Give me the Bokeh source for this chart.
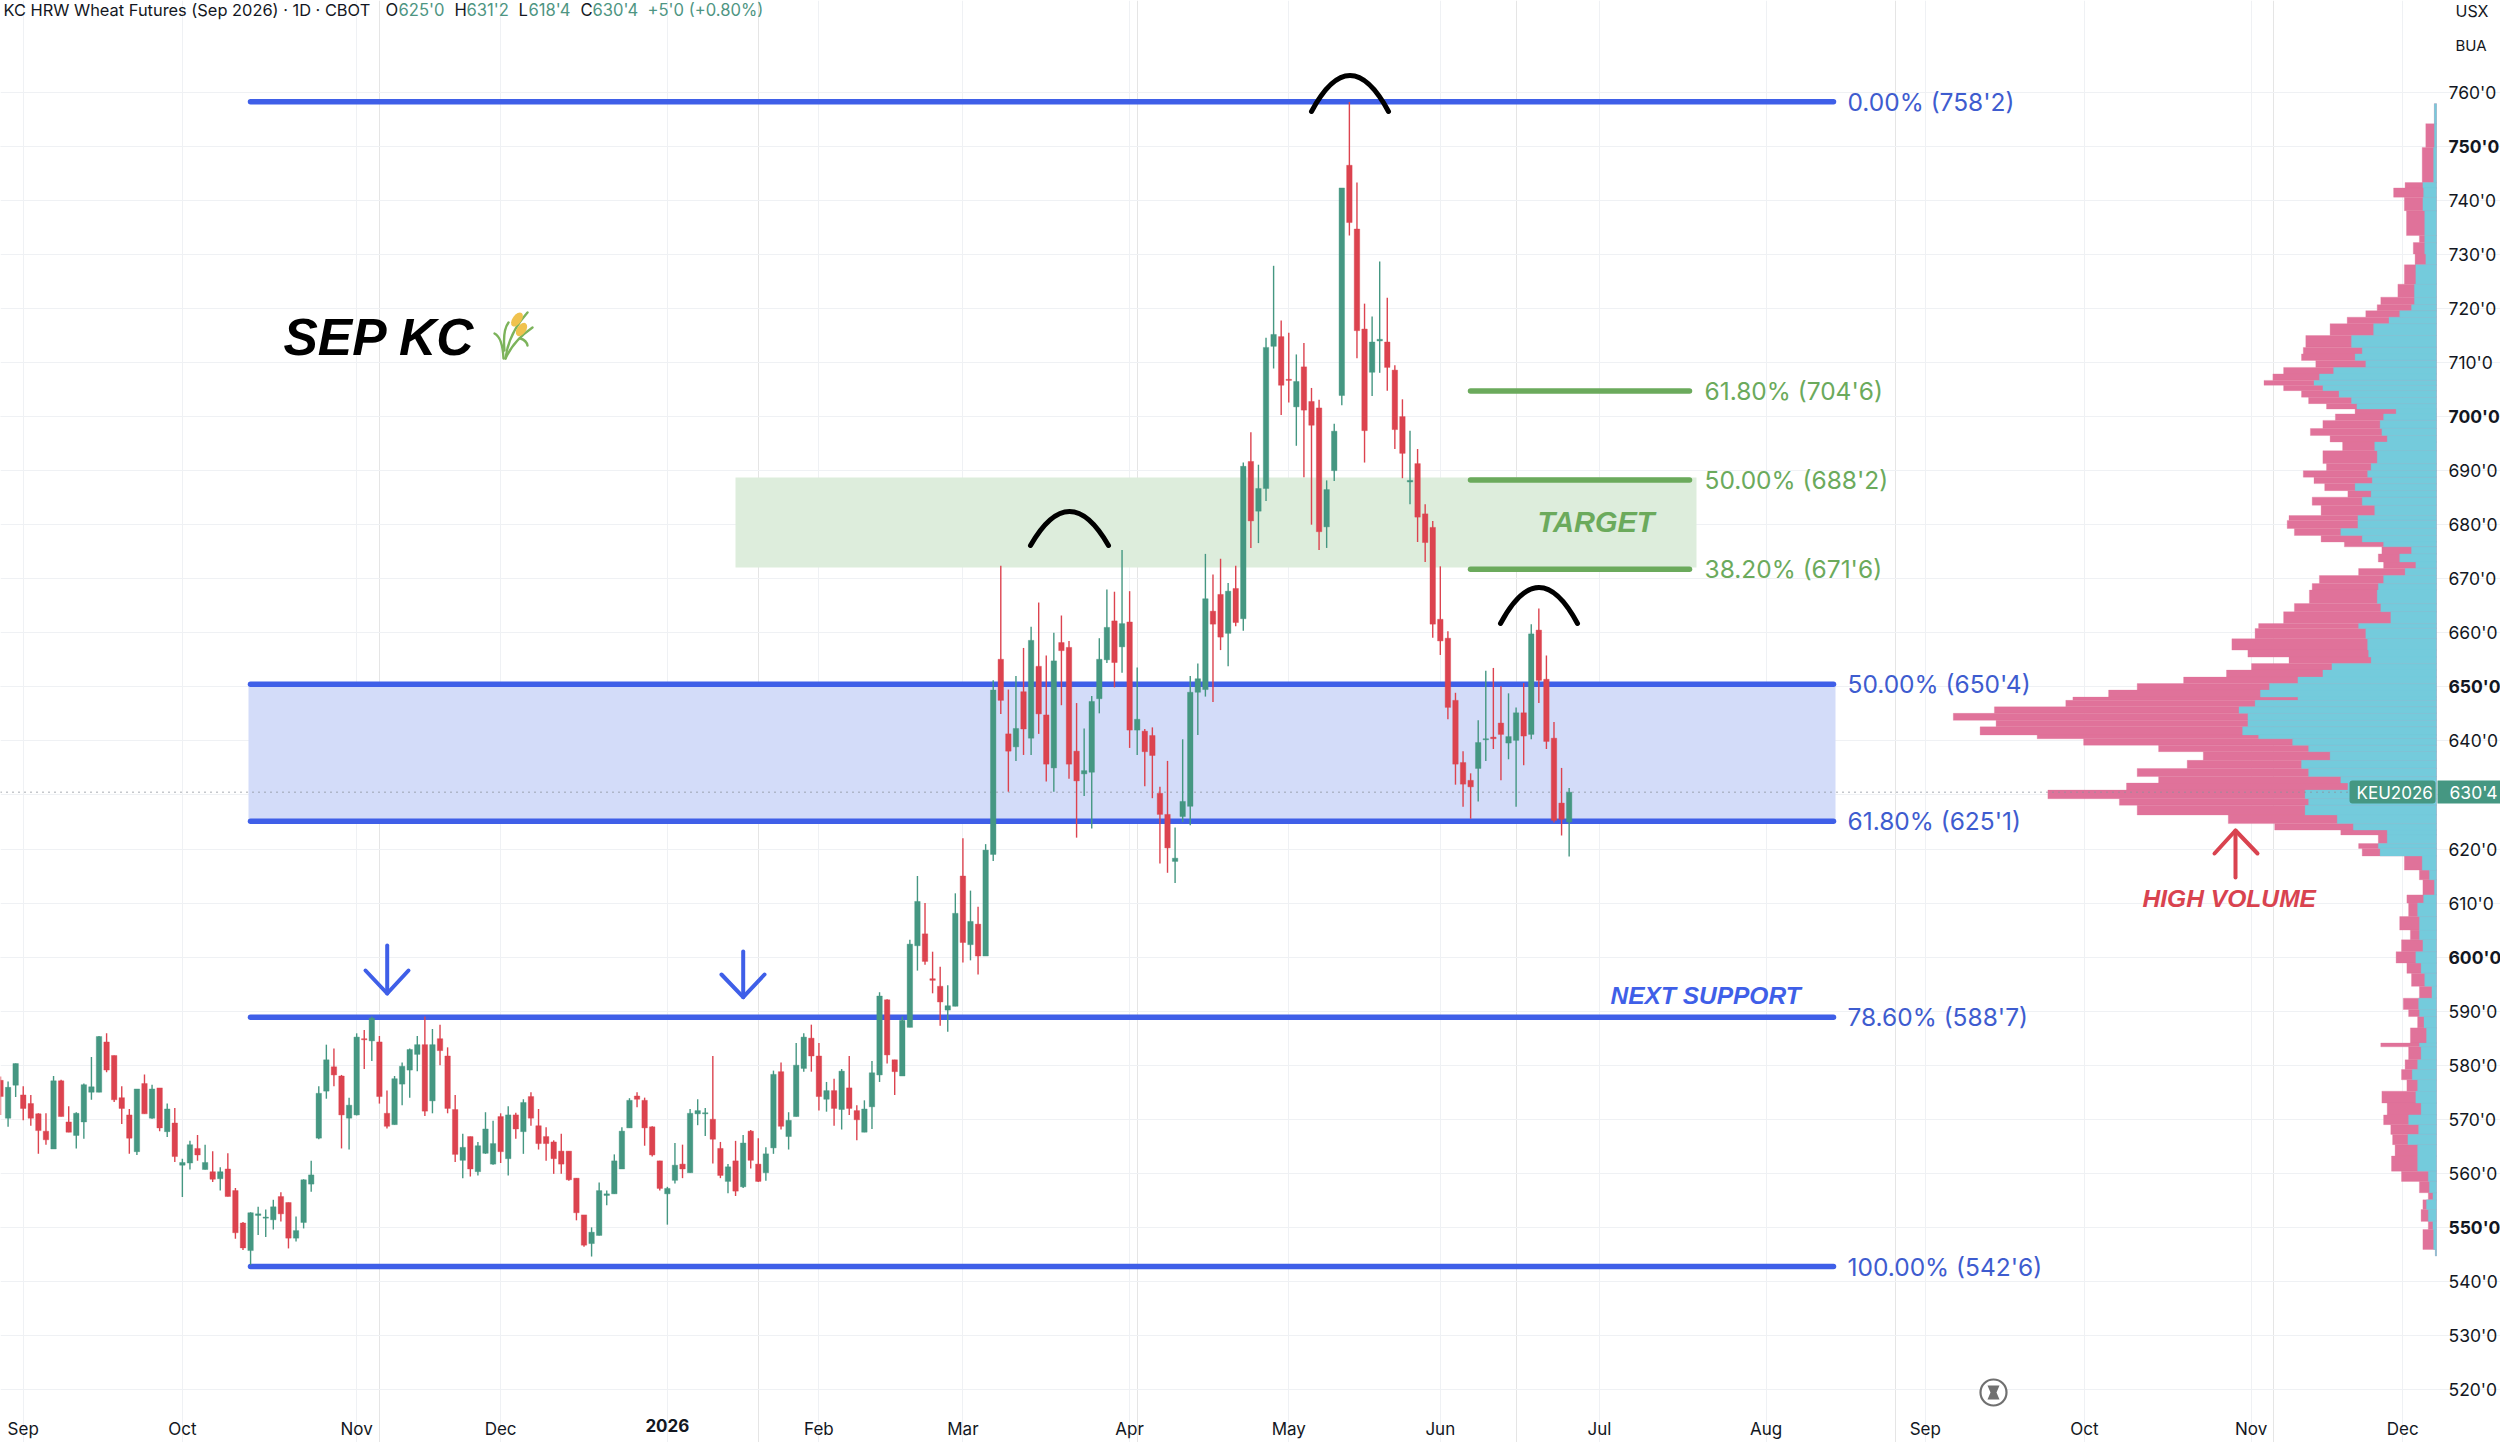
from bokeh.plotting import figure
from bokeh.models import Range1d, FixedTicker, Label, BoxAnnotation, LinearAxis, Grid
from bokeh.core.properties import value
from bokeh.embed import file_html
from bokeh.resources import INLINE

highs = [577.9,577.0,580.3,576.1,574.5,571.1,571.1,578.0,577.3,572.4,
571.3,576.6,581.5,585.4,585.9,581.8,576.1,571.9,575.6,578.3,
576.4,575.8,572.9,572.1,562.7,566.0,567.1,565.3,564.1,561.1,
563.7,557.3,551.0,552.8,553.8,553.3,555.1,556.5,554.6,552.0,
558.9,562.3,576.1,583.8,583.1,578.2,574.0,585.9,586.5,589.0,
585.4,575.3,578.0,580.5,583.1,585.4,589.0,586.7,587.5,583.3,
574.5,567.3,566.8,565.8,571.3,569.7,571.1,572.4,571.2,573.7,
575.0,571.9,568.5,566.1,567.3,564.1,559.1,552.3,550.0,558.3,
556.8,563.5,568.5,573.9,575.0,574.0,568.7,562.3,557.5,565.6,
565.3,571.9,573.7,572.1,581.7,565.8,561.7,566.0,567.1,568.0,
566.5,564.8,579.0,580.5,571.3,584.1,585.9,587.5,584.1,576.9,
577.5,579.3,581.7,572.6,573.5,580.8,593.5,592.2,581.0,589.0,
603.2,615.0,610.0,601.0,598.2,594.8,611.8,622.0,612.3,609.3,
620.9,651.2,672.4,649.5,652.0,657.2,661.1,665.6,655.8,660.0,
663.2,658.5,647.0,642.3,648.3,659.0,668.0,667.6,675.3,667.7,
653.6,642.2,642.5,631.5,636.3,624.0,640.3,652.0,654.3,674.6,
670.8,673.7,669.2,672.4,691.5,697.1,691.1,714.6,727.9,717.8,
715.5,711.5,713.6,705.3,703.1,688.2,698.7,742.3,758.2,743.3,
720.9,718.5,728.7,722.0,709.5,703.2,697.4,694.0,683.8,680.7,
672.3,660.3,648.9,638.1,634.0,643.8,653.0,653.5,650.1,648.8,
646.2,650.7,661.6,664.5,655.8,643.5,635.0,631.3]

lows = [570.8,568.6,574.1,569.8,568.8,563.6,565.3,564.5,570.5,567.6,
564.6,566.4,573.6,575.0,578.7,573.2,569.1,563.6,563.4,571.0,
570.1,567.8,566.7,562.1,555.6,560.7,562.3,560.7,558.4,556.8,
555.7,547.9,545.8,543.1,548.6,548.2,549.6,551.1,546.1,547.4,
549.8,556.6,566.3,573.8,576.1,564.6,564.4,570.7,579.3,580.8,
572.9,568.3,569.0,572.6,574.0,578.9,570.6,571.1,580.0,571.1,
562.1,559.1,559.4,559.6,563.6,561.6,561.9,559.6,566.4,563.6,
568.8,564.4,562.3,559.9,559.9,558.6,551.3,546.4,544.6,548.5,
554.1,556.2,560.8,568.4,572.2,565.1,563.1,556.8,550.5,558.1,
559.1,560.1,568.9,566.9,561.8,559.1,556.3,555.8,557.3,560.9,
558.4,558.6,563.6,568.1,564.4,570.5,578.8,578.8,571.6,571.4,
568.8,568.1,570.8,566.1,567.6,568.2,576.9,580.3,574.5,578.0,
587.0,597.5,598.6,593.3,587.3,586.2,590.9,599.0,599.4,596.8,
600.2,617.8,645.0,630.6,636.3,637.4,637.4,641.3,632.5,630.6,
646.6,633.0,622.1,629.8,623.8,645.1,654.4,649.9,652.6,638.7,
637.4,631.6,629.4,617.3,615.6,613.7,625.0,624.4,641.1,648.2,
647.2,656.8,653.8,661.2,660.4,675.7,676.6,684.4,708.9,700.3,
702.6,694.6,688.8,680.0,675.3,675.7,688.1,702.1,733.5,710.8,
691.5,703.8,708.1,704.8,694.0,688.6,683.8,676.8,673.1,659.1,
655.9,644.0,631.9,627.8,625.6,628.8,636.3,638.5,632.7,636.6,
627.8,635.5,640.3,647.0,638.5,624.9,622.5,618.6]

opens = [577.2,570.2,576.3,574.5,572.9,571.0,567.8,564.5,577.1,569.5,
567.0,569.5,575.0,575.0,584.3,581.8,574.0,570.8,564.0,576.6,
570.2,575.8,567.7,569.3,561.5,561.9,564.6,560.7,560.3,559.0,
560.8,556.8,550.8,545.7,552.2,551.7,551.4,555.7,554.6,548.0,
550.9,558.0,566.5,575.2,579.7,578.0,570.2,570.8,584.9,584.5,
584.3,571.1,569.0,576.5,579.1,582.0,583.8,573.4,584.9,581.7,
571.8,562.4,566.8,560.3,563.7,561.7,570.5,562.7,570.8,567.7,
574.2,568.8,566.8,565.8,564.1,564.1,559.1,552.3,547.0,548.5,
555.9,556.2,560.8,568.4,574.3,573.5,568.6,562.3,556.2,558.7,
561.7,560.1,571.0,571.0,570.0,564.6,558.5,562.3,557.5,567.8,
561.7,560.1,564.7,578.8,566.8,570.5,579.4,585.0,581.7,573.7,
575.3,571.8,575.8,571.6,567.6,572.3,578.2,592.1,581.0,578.0,
587.0,602.1,604.3,596.0,594.6,590.2,590.9,615.0,602.3,606.1,
600.2,619.0,655.1,641.3,638.9,649.1,640.5,653.8,644.8,635.0,
658.2,657.3,638.1,633.9,634.2,647.8,655.0,662.2,657.4,662.0,
642.0,641.8,641.0,630.3,626.4,617.7,626.0,627.9,649.0,649.5,
664.0,667.1,659.9,668.2,662.6,691.7,682.5,686.7,713.0,714.8,
706.9,701.8,709.2,702.8,701.6,679.6,690.0,703.9,746.5,734.7,
716.2,708.2,714.0,713.8,708.6,700.0,687.9,691.3,682.0,679.5,
662.5,659.0,647.5,636.0,632.7,634.9,640.2,640.7,643.3,639.6,
640.1,645.2,641.2,660.5,651.4,640.5,628.5,625.0]

closes = [574.2,575.9,580.3,572.0,570.2,567.9,566.2,577.1,570.5,567.6,
571.1,576.4,576.0,585.3,579.1,573.6,572.0,566.5,575.6,571.0,
575.6,568.4,571.9,563.1,562.0,565.3,563.4,562.0,558.9,560.3,
555.7,549.0,546.2,552.7,552.5,551.9,553.8,552.5,548.0,549.4,
558.8,559.7,574.8,581.0,578.2,570.8,572.6,585.2,584.7,588.7,
574.2,568.7,577.5,579.8,582.9,583.8,571.5,583.8,582.7,572.0,
563.5,564.8,560.8,565.1,568.2,565.5,564.0,570.8,568.2,573.1,
570.2,565.5,565.5,562.7,561.7,558.8,552.7,546.7,549.1,556.8,
556.2,562.3,567.8,573.5,573.7,568.4,563.4,557.2,557.2,561.5,
560.8,571.1,571.6,571.2,566.3,559.6,561.2,556.7,565.6,562.4,
558.5,563.6,578.3,568.7,569.8,580.0,585.2,581.7,574.2,575.3,
572.0,578.9,572.0,569.9,571.9,578.6,592.8,581.9,578.8,588.3,
602.4,610.3,599.2,595.7,591.7,591.0,608.1,602.7,606.6,600.2,
619.8,649.4,647.5,638.1,642.3,642.2,658.6,645.0,635.7,654.8,
656.7,635.7,632.6,634.5,647.3,655.1,661.0,654.5,661.7,642.0,
644.0,638.0,637.3,626.4,620.2,618.3,628.8,649.0,651.5,666.3,
661.6,659.2,667.7,661.9,690.8,680.7,686.7,712.8,715.2,705.8,
706.7,706.5,701.2,698.4,678.7,686.5,697.3,742.3,735.9,715.9,
697.4,713.8,714.3,709.1,697.6,693.2,688.2,681.4,676.7,661.6,
658.5,646.2,635.7,632.0,631.5,639.7,640.4,640.4,641.2,640.8,
645.2,640.9,659.8,651.2,639.9,625.3,625.5,630.5]

# volume profile: row boundaries (price) and total / up volume of each row
vp_edges = [757.9,754.2,749.8,743.3,742.3,740.6,738.1,733.5,732.2,730.1,728.1,724.5,722.1,720.7,719.6,718.4,717.2,715.0,712.8,711.6,
710.4,709.1,707.9,706.7,705.8,704.8,703.6,702.4,701.4,700.5,699.3,697.8,696.5,695.3,693.7,691.3,690.0,688.8,687.6,686.3,
685.1,683.6,681.7,680.8,679.3,678.0,676.8,675.9,674.6,673.1,671.9,670.6,669.1,667.9,665.4,663.9,661.7,660.8,658.9,656.8,
655.5,654.3,653.1,651.8,650.6,649.4,648.1,647.5,646.3,645.1,643.8,642.6,641.1,640.4,639.2,638.0,636.4,634.9,633.4,632.2,
630.9,629.3,628.1,626.3,624.7,623.5,622.6,621.0,620.1,618.7,616.1,614.3,611.5,610.0,607.5,605.0,603.2,601.0,598.9,597.0,
594.6,592.4,590.3,589.0,586.9,584.1,583.4,581.0,579.2,577.3,575.2,573.0,570.8,569.0,567.2,565.3,563.2,560.4,558.5,556.4,
555.1,553.3,551.1,549.6,545.9,544.7]
vp_total = [2.1,10.7,14.3,31.4,42.9,32.1,30,17.1,23.2,21.4,32.1,38.6,55.7,59.3,70.7,89.3,106.4,130.7,133.2,135,
120.7,152.9,163.6,172.5,152.9,135,127.9,110,81.4,101.1,113.6,126.1,106.4,93.9,113.6,110,133.2,122.5,111.8,88.6,
124.3,115.4,147.5,149.3,142.1,115.4,92.1,54.6,58.2,52.9,77.9,117.1,124.3,127.1,142.1,152.9,177.9,181.4,204.6,188.6,
147.5,185,210,252.9,299.3,327.9,363.6,370.7,442.1,483.2,440.4,456.4,399.3,352.9,277.9,233.2,249.3,299.3,277.9,310,
388.6,317.1,299.3,208.2,161.8,95.7,58.2,77.9,74.3,32.1,17.1,13.6,29.6,27.9,36.8,26.1,35,40.4,29.6,25,
17.1,33.2,27.9,18.9,26.1,55.7,27.9,31.4,35,29.6,54.6,49.3,52.9,45.7,43.9,41.4,45,35,17.1,8.2,
13.6,15.4,8.2,13.6,1.1]
vp_up = [2.1,2.1,2.9,13.6,12.9,13.6,11.8,11.8,11.8,10.7,20.7,22.1,22.1,25,36.8,47.5,62.9,85,74.3,81.4,
70.7,102.9,117.1,122.5,113.6,97.5,85,79.6,40.4,52.9,56.4,54.6,49.3,61.8,59.3,65.4,68.9,64.3,81.4,65.4,
74.3,61.8,78.6,78.6,95.7,74.3,52.9,25,36.8,20.7,31.4,52.9,58.2,59.3,55.7,45.7,77.9,70.7,68.9,67.9,
65.4,104.6,113.6,138.6,167.1,176.1,138.6,181.4,197.5,188.6,188.6,193.9,177.9,143.9,127.9,106.4,135,127.9,95.7,88.6,
131.4,127.9,131.4,99.3,83.2,49.3,49.3,58.2,56.4,14.3,7.1,2.1,12.9,18.9,17.1,17.1,13.6,20.7,15.4,11.8,
4.6,17.9,17.1,12.5,10,17.1,15.4,18.9,24.3,18.9,20.7,15.4,27.9,17.9,28.6,18.9,18.9,8.2,7.1,3.6,
10,8.2,3.6,2.9,1.1]

fib_blue_levels = [758.25, 650.5, 625.125, 588.875, 542.75]
fib_blue_labels = ["0.00% (758'2)", "50.00% (650'4)", "61.80% (625'1)", "78.60% (588'7)", "100.00% (542'6)"]
fib_green_levels = [704.75, 688.25, 671.75]
fib_green_labels = ["61.80% (704'6)", "50.00% (688'2)", "38.20% (671'6)"]
last_price = 630.5

month_ticks = [3, 24, 47, 66, 88, 108, 127, 149, 170, 190, 211, 233, 254, 275, 297, 317]
month_labels = ["Sep", "Oct", "Nov", "Dec", "2026", "Feb", "Mar", "Apr", "May", "Jun", "Jul", "Aug", "Sep", "Oct", "Nov", "Dec"]
price_ticks = list(range(520, 770, 10))
bold_prices = [550, 600, 650, 700, 750]

GREEN = "#459782"; RED = "#DC434F"
BLUE = "#3F5FE8"; BLUE_T = "#3E5CCF"; LGREEN = "#6BAA5C"
PINK = "#E0729A"; CYAN = "#74CBDC"
INK = "#131722"

BAR = 7.578
PXY = 5.405
def X(px): return px / BAR
def Y(py): return 520 + (1389 - py) / PXY
def tick_label(v): return f"{v}'0"

# The frame fills the page; the axes sit inside it at fixed places.
p = figure(frame_width=2500, frame_height=1442, output_backend="svg", toolbar_location=None,
           x_range=Range1d(X(0), X(2500)), y_range=Range1d(Y(1442), Y(0)),
           x_axis_location=None, y_axis_location=None,
           min_border_left=0, min_border_top=0, min_border_right=0, min_border_bottom=0,
           outline_line_color=None, background_fill_color="white")

def style_axis(ax, size, standoff):
    ax.axis_line_color = None
    ax.major_tick_line_color = None
    ax.minor_tick_line_color = None
    ax.major_label_text_font = "Inter"
    ax.major_label_text_color = INK
    ax.major_label_text_font_size = size
    ax.major_label_standoff = standoff

def price_axis(ticks, font_style):
    ax = LinearAxis(fixed_location=X(2436), ticker=FixedTicker(ticks=ticks),
                    major_label_overrides={t: tick_label(t) for t in ticks})
    style_axis(ax, "17.5px", 6)
    ax.major_label_text_font_style = font_style
    p.add_layout(ax, "right")

def date_axis(ticks, labels, font_style):
    ax = LinearAxis(fixed_location=Y(1408), ticker=FixedTicker(ticks=ticks),
                    major_label_overrides=dict(zip(ticks, labels)))
    style_axis(ax, "17px", 4)
    ax.major_label_text_font_style = font_style
    p.add_layout(ax, "below")

price_axis([t for t in price_ticks if t not in bold_prices and t != 630], "normal")
price_axis(bold_prices, "bold")
plain = [(t, l) for t, l in zip(month_ticks, month_labels) if l != "2026"]
date_axis([t for t, _ in plain], [l for _, l in plain], "normal")
bold_dates = [(t, l) for t, l in zip(month_ticks, month_labels) if l == "2026"]
date_axis([t for t, _ in bold_dates], [l for _, l in bold_dates], "bold")

p.add_layout(Grid(dimension=0, ticker=FixedTicker(ticks=month_ticks), grid_line_color="#EFF1F4",
                  bounds=(Y(1408), Y(0))))
p.add_layout(Grid(dimension=1, ticker=FixedTicker(ticks=price_ticks), grid_line_color="#EFF1F4",
                  bounds=(X(0), X(2436))))

# bands
p.quad(left=X(248), right=X(1835), top=fib_blue_levels[1], bottom=fib_blue_levels[2],
       fill_color="#D3DCF9", line_color=None)
p.quad(left=X(735), right=X(1696), top=Y(477), bottom=Y(567), fill_color="#DDEDDC", line_color=None)

# volume profile
p.extra_x_ranges["vp"] = Range1d(2436, -64)
vp_top = vp_edges[:-1]
vp_bot = vp_edges[1:]
p.quad(left=0, right=vp_total, top=vp_top, bottom=vp_bot, x_range_name="vp",
       fill_color=PINK, line_color=PINK, line_width=0.3)
p.quad(left=0, right=vp_up, top=vp_top, bottom=vp_bot, x_range_name="vp",
       fill_color=CYAN, line_color=CYAN, line_width=0.3)

# last price line
p.line([X(0), X(2349)], [last_price, last_price], line_color="#8A9099", line_width=1.3, line_dash="1 5")

# fib lines
for lv in fib_blue_levels:
    p.line([X(250), X(1833)], [lv, lv], line_color=BLUE, line_width=5.5, line_cap="round")
for lv in fib_green_levels:
    p.line([X(1470), X(1689)], [lv, lv], line_color=LGREEN, line_width=5.5, line_cap="round")
p.text(x=[X(1847)] * 5, y=fib_blue_levels, text=fib_blue_labels, text_font=value("Inter"),
       text_font_size="24.5px", text_color=BLUE_T, text_baseline="middle")
p.text(x=[X(1704)] * 3, y=fib_green_levels, text=fib_green_labels, text_font=value("Inter"),
       text_font_size="24.5px", text_color=LGREEN, text_baseline="middle")

# candles
idx = list(range(len(closes)))
colors = [GREEN if c >= o else RED for o, c in zip(opens, closes)]
tops = [max(o, c) for o, c in zip(opens, closes)]
bots = [min(o, c) for o, c in zip(opens, closes)]
p.segment(x0=idx, x1=idx, y0=lows, y1=highs, line_color=colors, line_width=1.4)
p.vbar(x=idx, width=0.72, top=tops, bottom=bots, fill_color=colors, line_color=colors, line_width=0.4)

# hand-drawn marks
def arc(x0, x1, y_end, y_apex):
    p.quadratic(x0=[X(x0)], y0=[Y(y_end)], x1=[X(x1)], y1=[Y(y_end)],
                cx=[X((x0 + x1) / 2)], cy=[Y(2 * y_apex - y_end)],
                line_color="#000000", line_width=5, line_cap="round")
arc(1311, 1388, 111, 75)
arc(1030, 1108, 545, 511)
arc(1500, 1577, 623, 587)

def arrow(xc, y_tail, y_tip, xl, xr, y_arm, color, w):
    p.line([X(xc), X(xc)], [Y(y_tail), Y(y_tip)], line_color=color, line_width=w, line_cap="round")
    p.line([X(xl), X(xc), X(xr)], [Y(y_arm), Y(y_tip), Y(y_arm)], line_color=color, line_width=w,
           line_cap="round", line_join="round")
arrow(386.7, 945, 993, 365, 408, 970, BLUE, 4)
arrow(742.7, 951, 996.7, 721, 764, 974, BLUE, 4)
arrow(2235, 877, 830, 2214, 2257, 853, "#D9434F", 4)

def txt(px, py, s, size, color, font="Inter", style="normal", align="left"):
    p.add_layout(Label(x=X(px), y=Y(py), text=s, text_font=font, text_font_size=f"{size}px",
                       text_color=color, text_font_style=style, text_align=align, text_baseline="middle"))

txt(283, 336, "SEP KC", 51.5, "#000000", font="Liberation Sans", style="bold italic")
txt(1537, 521, "TARGET", 29, LGREEN, font="Liberation Sans", style="bold italic")
txt(1610, 995, "NEXT SUPPORT", 24.5, BLUE, font="Liberation Sans", style="bold italic")
txt(2142, 898, "HIGH VOLUME", 24.6, "#D9434F", font="Liberation Sans", style="bold italic")

# wheat emoji
stem = "#7CB35B"
for a, b, c in [((505, 358), (508, 333), (527, 312)),
                ((505, 358), (513, 340), (532, 327)),
                ((503, 358), (502, 337), (494, 333)),
                ((504, 350), (502, 330), (508, 322)),
                ((520, 338), (526, 340), (527, 345))]:
    p.quadratic(x0=[X(a[0])], y0=[Y(a[1])], x1=[X(c[0])], y1=[Y(c[1])], cx=[X(b[0])], cy=[Y(b[1])],
                line_color=stem, line_width=2.4, line_cap="round")
p.ellipse(x=[X(516.5), X(521)], y=[Y(319), Y(329)], width=[16, 15], height=[9, 9],
          width_units="screen", height_units="screen", angle=[0.95, 0.95], fill_color="#F0C24E", line_color=None)

# hourglass
p.scatter(x=[X(1993)], y=[Y(1392)], size=26, marker="circle", fill_color="white",
          line_color="#707070", line_width=2.2)
p.patch([X(1987), X(1999), X(1996), X(1999), X(1987), X(1990)],
        [Y(1385), Y(1385), Y(1392), Y(1399), Y(1399), Y(1392)], fill_color="#707070", line_color=None)

# price tags
p.add_layout(BoxAnnotation(left=X(2349), right=X(2435), top=Y(780), bottom=Y(803), fill_color=GREEN,
                           fill_alpha=1, line_color=None, border_radius=3))
p.add_layout(BoxAnnotation(left=X(2437), right=X(2500), top=Y(780), bottom=Y(803), fill_color=GREEN,
                           fill_alpha=1, line_color=None))
txt(2356, 792, "KEU2026", 17, "white")
txt(2449, 792, "630'4", 17.5, "white")

txt(2455, 10, "USX", 16, INK)
txt(2455, 45, "BUA", 15, INK)

# header
TV = "#4E9582"
txt(3, 9, "KC HRW Wheat Futures (Sep 2026) · 1D · CBOT", 16.4, INK)
for px, s, c in [(385, "O", INK), (398, "625'0", TV), (454, "H", INK), (466, "631'2", TV),
                 (518, "L", INK), (528, "618'4", TV), (580, "C", INK), (592, "630'4", TV),
                 (647, "+5'0 (+0.80%)", TV)]:
    txt(px, 9, s, 16.6, c)

open("out.html", "w").write(file_html(p, INLINE))
